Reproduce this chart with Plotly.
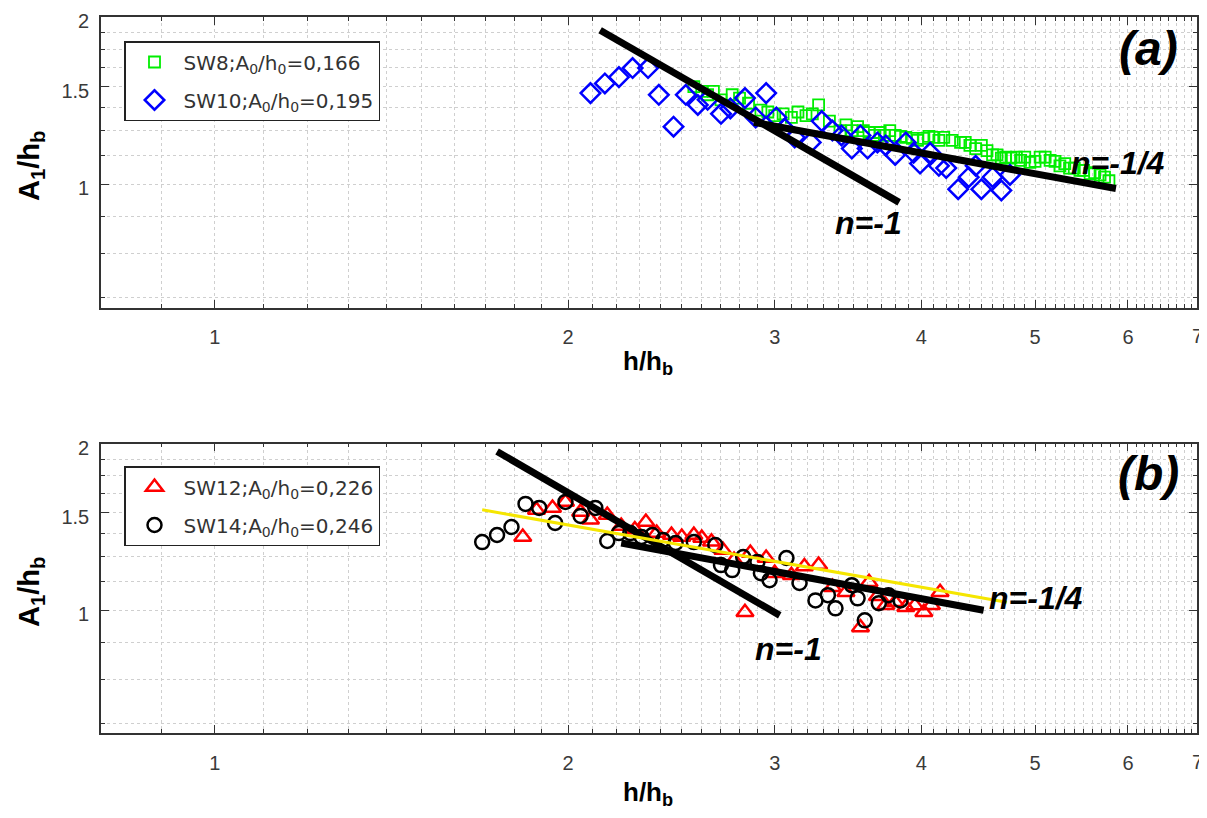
import numpy as np
import plotly.graph_objects as go

# ---------------- data ----------------
# Panel (a)
sw8_x = [2.56, 2.60, 2.63, 2.66, 2.70, 2.76, 2.80, 2.85, 2.92, 2.96, 3.00, 3.05, 3.10, 3.14, 3.19,
         3.23, 3.27, 3.34, 3.41, 3.45, 3.49, 3.53, 3.57, 3.61, 3.65, 3.69, 3.72, 3.76, 3.80, 3.84,
         3.88, 3.93, 3.97, 4.02, 4.06, 4.10, 4.14, 4.18, 4.25, 4.32, 4.36, 4.40, 4.45, 4.50, 4.55,
         4.60, 4.64, 4.68, 4.72, 4.77, 4.82, 4.86, 4.90, 4.95, 5.00, 5.05, 5.10, 5.15, 5.20, 5.25,
         5.30, 5.35, 5.40, 5.46, 5.50, 5.57, 5.62, 5.68, 5.73, 5.78]
sw8_y = [1.50, 1.47, 1.45, 1.47, 1.42, 1.45, 1.43, 1.40, 1.36, 1.35, 1.33, 1.34, 1.32, 1.35, 1.33,
         1.34, 1.39, 1.30, 1.25, 1.28, 1.25, 1.27, 1.25, 1.24, 1.225, 1.24, 1.225, 1.25, 1.225, 1.22,
         1.215, 1.21, 1.20, 1.21, 1.22, 1.215, 1.20, 1.215, 1.20, 1.19, 1.19, 1.175, 1.16, 1.175, 1.15,
         1.13, 1.13, 1.115, 1.12, 1.115, 1.12, 1.105, 1.12, 1.095, 1.10, 1.12, 1.12, 1.105, 1.10, 1.08,
         1.09, 1.07, 1.07, 1.06, 1.06, 1.045, 1.05, 1.04, 1.03, 1.015]

sw10_x = [2.09, 2.15, 2.21, 2.27, 2.34, 2.39, 2.46, 2.52, 2.58, 2.63, 2.70, 2.75, 2.83, 2.89, 2.95,
          3.01, 3.06, 3.12, 3.22, 3.29, 3.36, 3.42, 3.49, 3.55, 3.60, 3.67, 3.73, 3.80, 3.88, 3.94,
          3.99, 4.07, 4.14, 4.20, 4.30, 4.39, 4.45, 4.50, 4.60, 4.68, 4.76]
sw10_y = [1.46, 1.52, 1.56, 1.62, 1.62, 1.45, 1.27, 1.45, 1.39, 1.42, 1.34, 1.37, 1.43, 1.32, 1.46,
          1.32, 1.26, 1.215, 1.19, 1.30, 1.25, 1.225, 1.16, 1.225, 1.16, 1.19, 1.175, 1.13, 1.19, 1.14,
          1.09, 1.14, 1.08, 1.07, 0.98, 1.03, 1.08, 0.98, 1.03, 0.975, 1.04]

a_n1_x = [2.13, 3.83]
a_n1_y = [1.895, 0.928]
a_n14_x = [2.88, 5.86]
a_n14_y = [1.293, 0.983]

# Panel (b)
sw12_x = [1.83, 1.88, 1.94, 1.99, 2.05, 2.09, 2.16, 2.22, 2.28, 2.33, 2.38, 2.45, 2.50, 2.56, 2.60,
          2.65, 2.71, 2.77, 2.83, 2.86, 2.95, 3.00, 3.10, 3.18, 3.27, 3.36, 3.45, 3.55, 3.61, 3.67,
          3.73, 3.80, 3.88, 3.95, 4.02, 4.08, 4.15]
sw12_y = [1.357, 1.518, 1.531, 1.57, 1.506, 1.457, 1.487, 1.42, 1.40, 1.444, 1.379, 1.368, 1.357, 1.368, 1.351,
          1.33, 1.285, 1.232, 0.992, 1.269, 1.243, 1.167, 1.157, 1.20, 1.207, 1.101, 1.078, 0.931, 1.124, 1.06,
          1.021, 1.034, 1.013, 1.02, 0.992, 1.021, 1.078]

sw14_x = [1.69, 1.74, 1.79, 1.84, 1.89, 1.95, 1.99, 2.05, 2.11, 2.16, 2.21, 2.26, 2.31, 2.36, 2.41,
          2.47, 2.56, 2.67, 2.70, 2.76, 2.82, 2.90, 2.92, 2.97, 3.07, 3.15, 3.25, 3.33, 3.38, 3.49,
          3.53, 3.58, 3.68, 3.75, 3.84]
sw14_y = [1.328, 1.368, 1.414, 1.557, 1.531, 1.438, 1.57, 1.481, 1.531, 1.334, 1.379, 1.379, 1.357, 1.368, 1.34,
          1.323, 1.328, 1.312, 1.207, 1.182, 1.248, 1.222, 1.167, 1.133, 1.243, 1.12, 1.042, 1.065, 1.008, 1.11,
          1.051, 0.959, 1.03, 1.065, 1.042]

b_n1_x = [1.74, 3.03]
b_n1_y = [1.936, 0.979]
b_n14_x = [2.22, 4.52]
b_n14_y = [1.323, 1.0]
b_fit_x = [1.69, 4.73]
b_fit_y = [1.519, 1.034]

x_major = [1, 2, 3, 4, 5, 6]
x_edge_label = "7"
x_minor = [round(v, 1) for v in np.arange(0.8, 6.9, 0.1) if abs(v - round(v)) > 1e-6]
y_major = [1, 1.5, 2]
y_minor = [0.625, 0.75, 0.875, 1.125, 1.25, 1.375, 1.625, 1.75, 1.875]

legend_a = ["SW8;A<sub>0</sub>/h<sub>0</sub>=0,166", "SW10;A<sub>0</sub>/h<sub>0</sub>=0,195"]
legend_b = ["SW12;A<sub>0</sub>/h<sub>0</sub>=0,226", "SW14;A<sub>0</sub>/h<sub>0</sub>=0,246"]

# ---------------- figure ----------------
# the page body has an 8px margin, so the figure is placed at (8, 8) in the window
OFF = 8
W, H = 1207 - OFF, 818 - OFF
FONT = "Liberation Sans, Arial, sans-serif"
AX = "#333333"
GRID = "#cfcfcf"


def fx(px):
    return (px - OFF) / W


def fy(py):
    return 1 - (py - OFF) / H


fig = go.Figure()

fig.add_trace(go.Scatter(x=sw8_x, y=sw8_y, mode="markers", name=legend_a[0], legend="legend",
                         legendgroup="g1",
                         marker=dict(symbol="square-open", size=11, color="#00ee00", line=dict(width=1.8)),
                         xaxis="x", yaxis="y"))
fig.add_trace(go.Scatter(x=sw10_x, y=sw10_y, mode="markers", name=legend_a[1], legend="legend",
                         legendgroup="g2",
                         marker=dict(symbol="diamond-open", size=15, color="#0000ff", line=dict(width=2.5)),
                         xaxis="x", yaxis="y"))
for lx, ly in [(a_n1_x, a_n1_y), (a_n14_x, a_n14_y)]:
    fig.add_trace(go.Scatter(x=lx, y=ly, mode="lines", showlegend=False,
                             line=dict(color="black", width=7), xaxis="x", yaxis="y"))

fig.add_trace(go.Scatter(x=sw12_x, y=sw12_y, mode="markers", name=legend_b[0], legend="legend2",
                         legendgroup="g3",
                         marker=dict(symbol="triangle-up-open", size=15, color="#ff0000", line=dict(width=2.5)),
                         xaxis="x2", yaxis="y2"))
fig.add_trace(go.Scatter(x=sw14_x, y=sw14_y, mode="markers", name=legend_b[1], legend="legend2",
                         legendgroup="g4",
                         marker=dict(symbol="circle-open", size=14, color="black", line=dict(width=2.5)),
                         xaxis="x2", yaxis="y2"))
for lx, ly in [(b_n1_x, b_n1_y), (b_n14_x, b_n14_y)]:
    fig.add_trace(go.Scatter(x=lx, y=ly, mode="lines", showlegend=False,
                             line=dict(color="black", width=7), xaxis="x2", yaxis="y2"))
fig.add_trace(go.Scatter(x=b_fit_x, y=b_fit_y, mode="lines", showlegend=False,
                         line=dict(color="#f5e600", width=3), xaxis="x2", yaxis="y2"))


def xaxis_cfg(anchor):
    return dict(type="log", range=[np.log10(0.8), np.log10(6.87)], domain=[fx(101), fx(1197)],
                anchor=anchor, automargin=False, tickmode="array", tickvals=x_major,
                ticktext=[str(v) for v in x_major], ticklabeloverflow="allow",
                ticks="inside", ticklen=8, tickwidth=1.3, tickcolor=AX,
                showline=True, linecolor=AX, linewidth=1.6, mirror="ticks",
                showgrid=True, gridcolor=GRID, griddash="dot", gridwidth=1,
                zeroline=False, ticklabelstandoff=11,
                tickfont=dict(family=FONT, size=20, color="#3a3a3a"),
                minor=dict(tickmode="array", tickvals=x_minor, ticks="inside", ticklen=4,
                           tickwidth=1, tickcolor=AX, showgrid=True, gridcolor=GRID,
                           griddash="dot", gridwidth=1))


def yaxis_cfg(anchor, top, bottom):
    return dict(type="log", range=[np.log10(0.6), np.log10(2.002)],
                domain=[fy(bottom), fy(top)], anchor=anchor, automargin=False,
                tickmode="array", tickvals=y_major, ticktext=["1", "1.5", "2"],
                ticklabeloverflow="allow", ticklabelshift=4,
                ticks="inside", ticklen=8, tickwidth=1.3, tickcolor=AX,
                showline=True, linecolor=AX, linewidth=1.6, mirror="ticks",
                showgrid=True, gridcolor=GRID, griddash="dot", gridwidth=1,
                zeroline=False, ticklabelstandoff=6,
                tickfont=dict(family=FONT, size=20, color="#3a3a3a"),
                minor=dict(tickmode="array", tickvals=y_minor, ticks="inside", ticklen=4,
                           tickwidth=1, tickcolor=AX, showgrid=True, gridcolor=GRID,
                           griddash="dot", gridwidth=1))


legend_style = dict(xanchor="left", yanchor="top", bgcolor="white", bordercolor="#222222",
                    borderwidth=1.5, font=dict(family="DejaVu Sans, sans-serif", size=20, color="#333333"),
                    traceorder="grouped", tracegroupgap=9, itemwidth=48)

fig.update_layout(
    width=W, height=H, margin=dict(l=0, r=0, t=0, b=0, pad=0, autoexpand=False),
    paper_bgcolor="white", plot_bgcolor="white",
    xaxis=xaxis_cfg("y"), yaxis=yaxis_cfg("x", 17, 307.5),
    xaxis2=xaxis_cfg("y2"), yaxis2=yaxis_cfg("x2", 443.5, 733),
    legend=dict(x=fx(124), y=fy(41), **legend_style),
    legend2=dict(x=fx(124), y=fy(466), **legend_style),
)


def ann(text, px, py, size, angle=0, xanchor="center", yanchor="middle", color="black"):
    fig.add_annotation(text=text, x=fx(px), y=fy(py), xref="paper", yref="paper",
                       showarrow=False, textangle=angle, xanchor=xanchor, yanchor=yanchor,
                       font=dict(family=FONT, size=size, color=color))


# right-edge tick label of the x axes
ann(x_edge_label, 1197, 336, 20, color="#3a3a3a")
ann(x_edge_label, 1197, 762, 20, color="#3a3a3a")

# axis titles
ann("<b>h/h<sub>b</sub></b>", 648, 362, 26)
ann("<b>h/h<sub>b</sub></b>", 648, 793, 26)
ann("<b>A<sub>1</sub>/h<sub>b</sub></b>", 31, 166, 29, angle=-90)
ann("<b>A<sub>1</sub>/h<sub>b</sub></b>", 31, 592, 29, angle=-90)

# panel labels
ann("<b><i>(a)</i></b>", 1148, 48, 48)
ann("<b><i>(b)</i></b>", 1148, 473, 48)

# slope labels
ann("<b><i>n=-1</i></b>", 868, 223, 32)
ann("<b><i>n=-1/4</i></b>", 1118, 163, 32)
ann("<b><i>n=-1</i></b>", 788, 649, 32)
ann("<b><i>n=-1/4</i></b>", 1036, 598, 32)

fig.write_html("out.html")
